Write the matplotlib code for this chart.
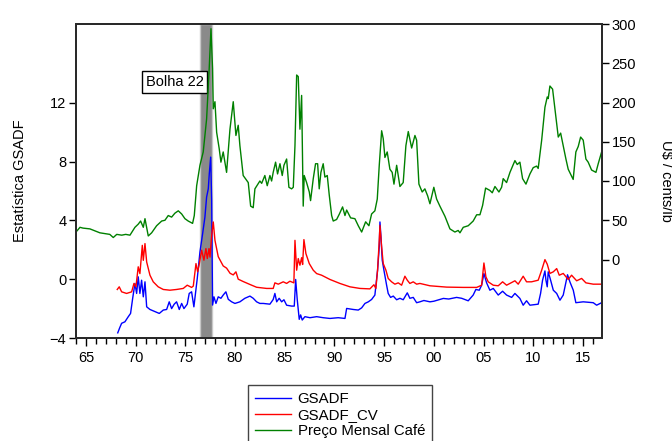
import matplotlib
matplotlib.use("Agg")
import matplotlib.pyplot as plt
from matplotlib.ticker import FixedLocator, FuncFormatter

plt.rcParams['font.family'] = ['Liberation Sans', 'DejaVu Sans']
plt.rcParams['font.size'] = 10.5

# GSADF statistic (left axis), x in decimal years
yr_gsadf = [1968.2, 1968.4, 1968.59, 1968.92, 1969.26, 1969.49, 1969.7, 1969.93, 1970.1, 1970.26,
            1970.43, 1970.6, 1970.77, 1970.94, 1971.11, 1971.44, 1971.94, 1972.38, 1972.78, 1973.12,
            1973.38, 1973.62, 1973.88, 1974.12, 1974.39, 1974.63, 1974.86, 1975.19, 1975.39, 1975.63,
            1975.86, 1976.2, 1976.47, 1976.74, 1976.97, 1977.14, 1977.31, 1977.41, 1977.55, 1977.65,
            1977.74, 1977.88, 1978.08, 1978.31, 1978.58, 1978.81, 1979.08, 1979.32, 1979.66, 1979.99,
            1980.49, 1980.99, 1981.5, 1981.83, 1982.17, 1982.5, 1982.84, 1983.51, 1983.84, 1984.01,
            1984.19, 1984.44, 1984.69, 1984.92, 1985.19, 1985.69, 1985.96, 1986.1, 1986.26, 1986.46,
            1986.6, 1986.76, 1987.03, 1987.54, 1988.21, 1988.87, 1989.55, 1990.38, 1991.06, 1991.23,
            1991.89, 1992.4, 1992.74, 1993.07, 1993.41, 1993.74, 1994.07, 1994.34, 1994.51, 1994.58,
            1994.68, 1994.81, 1994.98, 1995.25, 1995.41, 1995.65, 1995.92, 1996.26, 1996.59, 1996.92,
            1997.33, 1997.59, 1997.93, 1998.27, 1998.6, 1999.0, 1999.61, 2000.0, 2000.96, 2001.5,
            2002.29, 2002.8, 2003.46, 2003.96, 2004.23, 2004.57, 2004.81, 2005.04, 2005.31, 2005.64,
            2005.98, 2006.48, 2006.92, 2007.32, 2007.83, 2008.16, 2008.66, 2008.99, 2009.33, 2009.67,
            2010.5, 2010.74, 2010.94, 2011.18, 2011.28, 2011.41, 2011.51, 2011.75, 2012.02, 2012.36,
            2012.69, 2013.02, 2013.45, 2013.7, 2014.03, 2014.29, 2015.03, 2016.04, 2016.38, 2016.88]
gsadf = [-3.65, -3.3, -3.0, -2.9, -2.55, -2.33, -1.31, -0.29, -0.97, 0.16,
         -0.97, -0.07, -1.2, -0.18, -1.88, -2.06, -2.2, -2.33, -2.1, -2.06,
         -1.54, -2.0, -1.7, -1.54, -2.06, -1.65, -2.0, -1.7, -0.97, -0.86,
         -1.88, 0.05, 1.85, 3.1, 4.22, 5.58, 6.15, 7.17, 8.3, 5.36,
         -1.76, -1.2, -1.65, -1.2, -1.3, -1.08, -0.86, -1.37, -1.54, -1.65,
         -1.54, -1.3, -1.15, -1.3, -1.54, -1.65, -1.65, -1.7, -1.38, -0.97,
         -1.54, -1.3, -1.54, -1.4, -1.77, -1.83, -1.83, -0.02, -1.4, -2.73,
         -2.43, -2.78, -2.55, -2.62, -2.55, -2.62, -2.67, -2.62, -2.67, -1.99,
         -2.06, -2.1, -1.95, -1.65, -1.54, -1.38, -1.08, 0.61, 2.19, 3.89,
         2.9, 1.29, 0.61, -0.41, -0.97, -1.24, -1.15, -1.4, -1.3, -1.4,
         -0.93, -1.3, -1.24, -1.6, -1.54, -1.45, -1.54, -1.5, -1.31, -1.35,
         -1.24, -1.3, -1.47, -1.08, -0.7, -0.75, -0.41, 0.38, -0.25, -0.75,
         -0.63, -1.08, -0.82, -1.08, -1.24, -0.97, -1.31, -1.77, -1.47, -1.77,
         -1.7, -0.97, -0.07, 0.56, -0.07, -0.52, 0.5, -0.07, -0.75, -0.97,
         -1.43, -1.08, 0.3, -0.2, -0.75, -1.6, -1.54, -1.6, -1.77, -1.6]

# GSADF critical values (left axis)
yr_cv = [1968.15, 1968.35, 1968.59, 1969.09, 1969.6, 1969.83, 1970.03, 1970.26, 1970.43, 1970.67,
         1970.77, 1970.94, 1971.11, 1971.44, 1971.77, 1972.27, 1972.78, 1973.45, 1974.12, 1974.79,
         1975.19, 1975.63, 1975.8, 1976.07, 1976.24, 1976.41, 1976.64, 1976.87, 1977.07, 1977.21,
         1977.38, 1977.48, 1977.65, 1977.81, 1977.98, 1978.31, 1978.81, 1979.15, 1979.5, 1979.82,
         1980.09, 1980.32, 1980.82, 1981.5, 1982.17, 1983.18, 1983.84, 1984.01, 1984.35, 1984.85,
         1985.19, 1985.52, 1985.92, 1986.03, 1986.2, 1986.36, 1986.53, 1986.7, 1986.8, 1986.93,
         1987.13, 1987.47, 1987.87, 1988.21, 1988.71, 1989.55, 1990.55, 1991.56, 1992.57, 1993.57,
         1993.97, 1994.17, 1994.34, 1994.51, 1994.58, 1994.75, 1994.91, 1995.18, 1995.41, 1995.75,
         1996.08, 1996.42, 1996.76, 1997.09, 1997.33, 1997.59, 1997.93, 1998.27, 1998.6, 1999.61,
         2001.29, 2002.96, 2004.31, 2004.81, 2005.04, 2005.24, 2005.47, 2005.98, 2006.48, 2006.92,
         2007.32, 2008.16, 2008.49, 2008.99, 2009.33, 2009.83, 2010.5, 2010.85, 2011.18, 2011.41,
         2011.68, 2012.02, 2012.36, 2012.62, 2013.02, 2013.52, 2013.86, 2014.37, 2014.87, 2015.3,
         2016.04, 2016.88]
gsadf_cv = [-0.7, -0.52, -0.86, -0.97, -0.86, -0.29, -0.52, 0.84, 0.38, 2.3,
            1.28, 2.42, 1.17, 0.27, -0.18, -0.52, -0.7, -0.75, -0.7, -0.63,
            -0.41, -0.56, -0.47, 1.06, 0.5, 1.06, 1.97, 1.29, 2.08, 1.4,
            2.08, 1.5, 2.98, 3.89, 2.64, 1.53, 0.9, 0.75, 0.4, 0.29,
            0.5, 0.0, -0.16, -0.36, -0.55, -0.63, -0.63, -0.25, -0.34, -0.18,
            -0.29, -0.14, -0.25, 2.64, 0.61, 1.4, 0.95, 1.46, 1.0, 2.69,
            1.74, 1.06, 0.61, 0.38, 0.27, -0.02, -0.29, -0.52, -0.63, -0.66,
            -0.38, -0.63, 0.61, 2.64, 3.66, 2.19, 1.06, 0.61, 0.05, -0.18,
            -0.34, -0.25, -0.41, 0.2, -0.07, -0.29, -0.18, -0.34, -0.29, -0.45,
            -0.54, -0.56, -0.56, -0.41, 1.1, 0.16, -0.18, -0.41, -0.45, -0.18,
            -0.41, -0.11, -0.34, 0.2, -0.18, -0.18, -0.07, 0.61, 1.33, 1.02,
            0.39, 0.5, 0.72, 0.27, 0.39, -0.02, 0.27, -0.11, 0.05, -0.25,
            -0.34, -0.34]

# monthly coffee price, US cents/lb (right axis)
yr_price = [1964.0, 1964.4, 1964.7, 1965.4, 1966.0, 1966.4, 1966.9, 1967.4, 1967.75, 1968.1,
            1968.6, 1969.0, 1969.43, 1969.93, 1970.26, 1970.5, 1970.77, 1970.94, 1971.27, 1971.61,
            1972.11, 1972.62, 1972.95, 1973.28, 1973.62, 1973.95, 1974.29, 1974.63, 1974.96, 1975.29,
            1975.73, 1975.9, 1976.14, 1976.47, 1976.8, 1977.14, 1977.4, 1977.58, 1977.74, 1977.81,
            1977.98, 1978.15, 1978.41, 1978.58, 1978.81, 1978.98, 1979.15, 1979.49, 1979.82, 1980.09,
            1980.32, 1980.49, 1980.82, 1981.33, 1981.57, 1981.83, 1982.0, 1982.5, 1982.68, 1983.0,
            1983.24, 1983.51, 1983.68, 1983.84, 1984.08, 1984.28, 1984.52, 1984.75, 1984.92, 1985.19,
            1985.42, 1985.69, 1985.86, 1986.03, 1986.2, 1986.36, 1986.53, 1986.7, 1986.86, 1986.96,
            1987.2, 1987.47, 1987.6, 1987.87, 1988.1, 1988.31, 1988.47, 1988.64, 1988.87, 1989.04,
            1989.28, 1989.48, 1989.72, 1989.88, 1990.22, 1990.5, 1990.82, 1991.06, 1991.23, 1991.63,
            1992.06, 1992.4, 1992.74, 1993.14, 1993.47, 1993.74, 1994.07, 1994.31, 1994.51, 1994.75,
            1994.91, 1995.08, 1995.31, 1995.58, 1995.81, 1995.99, 1996.26, 1996.59, 1996.92, 1997.19,
            1997.43, 1997.77, 1998.1, 1998.27, 1998.5, 1998.83, 1999.1, 1999.38, 1999.61, 2000.0,
            2000.28, 2000.61, 2001.12, 2001.62, 2002.12, 2002.45, 2002.63, 2002.96, 2003.46, 2003.96,
            2004.31, 2004.64, 2004.91, 2005.21, 2005.64, 2005.88, 2006.15, 2006.55, 2006.82, 2006.98,
            2007.32, 2007.66, 2008.16, 2008.39, 2008.66, 2008.93, 2009.27, 2009.67, 2010.0, 2010.34,
            2010.5, 2010.85, 2011.18, 2011.41, 2011.51, 2011.68, 2011.95, 2012.18, 2012.52, 2012.76,
            2013.02, 2013.29, 2013.52, 2014.02, 2014.29, 2014.53, 2014.77, 2015.03, 2015.3, 2015.53,
            2015.87, 2016.31, 2016.54, 2016.88]
price = [35, 41, 40, 39, 36, 34, 33, 32, 28, 32,
         31, 32, 31, 41, 45, 49, 41, 52, 30, 34,
         43, 49, 50, 56, 54, 59, 62, 58, 52, 49,
         46, 56, 94, 120, 137, 179, 243, 294, 243, 192,
         201, 162, 141, 124, 137, 124, 111, 166, 201, 158,
         171, 145, 107, 98, 68, 66, 90, 100, 97, 107,
         94, 107, 100, 111, 124, 109, 122, 107, 120, 128,
         92, 90, 92, 145, 235, 233, 166, 209, 68, 107,
         98, 86, 75, 103, 122, 122, 90, 111, 122, 105,
         107, 82, 56, 49, 51, 58, 67, 56, 63, 53,
         52, 43, 35, 48, 43, 58, 62, 77, 120, 164,
         154, 130, 137, 115, 111, 96, 120, 93, 98, 145,
         163, 142, 158, 152, 96, 86, 90, 81, 71, 92,
         77, 68, 55, 39, 35, 37, 34, 41, 43, 49,
         57, 57, 69, 91, 88, 85, 93, 86, 92, 103,
         98, 111, 126, 121, 124, 103, 96, 109, 117, 119,
         116, 152, 194, 207, 205, 221, 217, 192, 156, 161,
         145, 128, 115, 102, 137, 144, 156, 152, 128, 124,
         114, 111, 122, 137]

bubble_start = 1976.45
bubble_end = 1977.7
years_major = [1965, 1970, 1975, 1980, 1985, 1990, 1995, 2000, 2005, 2010, 2015]

fig = plt.figure(figsize=(6.72, 4.41), dpi=100)
ax = fig.add_axes([76 / 672, 1 - 338 / 441, 526 / 672, 314 / 441])
ax2 = ax.twinx()

# bubble period shading
ax.axvspan(bubble_start, bubble_end, color='#8a8a8a', ec='#c8c8c8', lw=1.0, zorder=0)

l1, = ax.plot(yr_gsadf, gsadf, color='#0000ff', lw=1.0, label='GSADF')
l2, = ax.plot(yr_cv, gsadf_cv, color='#ff0000', lw=1.0, label='GSADF_CV')
l3, = ax2.plot(yr_price, price, color='#008000', lw=1.0, label='Preço Mensal Café')

ax.set_xlim(1964.0, 2016.92)
ax.set_ylim(-4, 17.35)
ax2.set_ylim(-100, 300)

ax.set_yticks([-4, 0, 4, 8, 12])
ax2.set_yticks([0, 50, 100, 150, 200, 250, 300])
ax.xaxis.set_major_locator(FixedLocator(years_major))
ax.xaxis.set_minor_locator(FixedLocator(list(range(1964, 2017))))
ax.xaxis.set_major_formatter(FuncFormatter(lambda v, p: '%02d' % (int(round(v)) % 100)))

ax.tick_params(axis='x', which='major', direction='out', length=6, width=1, pad=3)
ax.tick_params(axis='x', which='minor', direction='out', length=4, width=1)
ax.tick_params(axis='y', direction='out', length=5, width=1, pad=2)
ax2.tick_params(axis='y', direction='out', length=5, width=1, pad=2)

for a in (ax, ax2):
    for s in a.spines.values():
        s.set_linewidth(1.4)
        s.set_color('#2a2a2a')

ax.text(1973.95, 13.4, 'Bolha 22', ha='center', va='center',
        bbox=dict(boxstyle='square,pad=0.25', fc='white', ec='black', lw=1.0), zorder=5)

fig.text(20 / 672, 1 - 181 / 441, 'Estatística GSADF', rotation=90, ha='center', va='center')
fig.text(666 / 672, 1 - 181 / 441, 'U$ / cents/lb', rotation=270, ha='center', va='center')

fig.legend(handles=[l1, l2, l3], loc='upper left', bbox_to_anchor=(248 / 672, 1 - 385 / 441),
           frameon=True, fancybox=False, edgecolor='#444444', framealpha=1,
           fontsize=10.8, handlelength=2.4, handletextpad=0.45, borderaxespad=0,
           borderpad=0.45, labelspacing=0.15)

fig.savefig('out.png', dpi=100)
